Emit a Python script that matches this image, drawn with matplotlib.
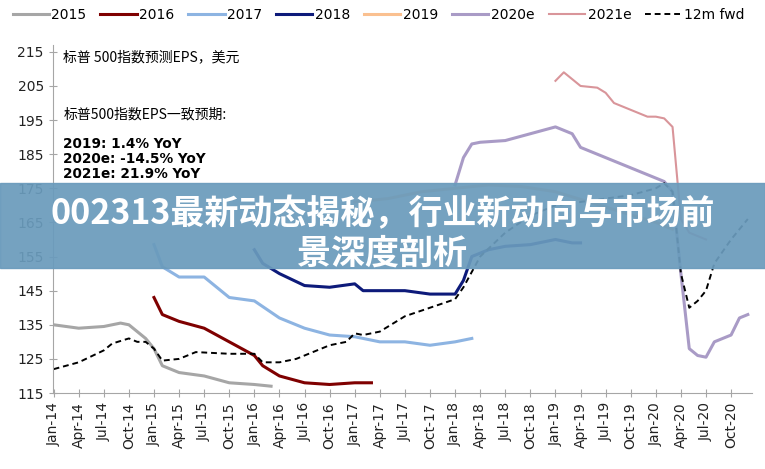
import matplotlib
matplotlib.use("Agg")
import matplotlib.pyplot as plt
from matplotlib.patches import Rectangle
from matplotlib import font_manager as fm

cjk_names = sorted({f.name for f in fm.fontManager.ttflist if "CJK" in f.name})
cjk = next((n for n in cjk_names if "SC" in n), cjk_names[0] if cjk_names else "DejaVu Sans")

# month index: 0 = Jan-14
s2015_m = [0, 3, 6, 8, 9, 11, 12, 13, 15, 18, 21, 24, 26]
s2015_v = [135, 134, 134.5, 135.5, 135, 131, 128, 123, 121, 120, 118, 117.5, 117]
s2016_m = [12, 13, 15, 18, 21, 24, 25, 27, 30, 33, 36, 38]
s2016_v = [143, 138, 136, 134, 130, 126, 123, 120, 118, 117.5, 118, 118]
s2017_m = [12, 13, 15, 18, 21, 24, 27, 30, 33, 36, 39, 42, 45, 48, 50]
s2017_v = [158.5, 152, 149, 149, 143, 142, 137, 134, 132, 131.5, 130, 130, 129, 130, 131]
s2018_m = [24, 25, 27, 30, 33, 36, 37, 39, 42, 45, 48, 49, 50, 52, 54, 57, 60, 62, 63]
s2018_v = [157, 153, 150, 146.5, 146, 147, 145, 145, 145, 144, 144, 148, 155, 157, 158, 158.5, 160, 159, 159]
s2019_m = [36, 40, 44, 48, 52, 56, 60, 64, 68, 72, 74]
s2019_v = [171, 172, 174, 175, 176, 175.5, 174, 171, 168, 165, 163]
s2020_m = [48, 49, 50, 51, 54, 57, 60, 62, 63, 66, 69, 72, 73, 74, 75, 76, 77, 78, 79, 80, 81, 82, 83]
s2020_v = [176, 184, 188, 188.5, 189, 191, 193, 191, 187, 184, 181, 178, 177, 174, 150, 128, 126, 125.5, 130, 131, 132, 137, 138]
s2021_m = [60, 61, 63, 65, 66, 67, 69, 71, 72, 73, 74, 75, 76, 78]
s2021_v = [206.5, 209, 205, 204.5, 203, 200, 198, 196, 196, 195.5, 193, 166, 162, 160]
fwd_m = [0, 3, 6, 7, 9, 10, 11, 12, 13, 15, 17, 21, 24, 25, 27, 29, 30, 33, 35, 36, 37, 39, 41, 42, 45, 48, 49, 51, 54, 57, 60, 63, 66, 69, 72, 73, 74, 75, 76, 77, 78, 79, 81, 83]
fwd_v = [122, 124, 127.5, 129.5, 131, 130, 130, 128, 124.5, 125, 127, 126.5, 126.5, 124, 124, 125, 126, 129, 130, 132.5, 132, 133, 136, 137.5, 140, 142.5, 146, 155, 162, 167, 170, 171, 172, 173, 175, 176.5, 174, 150, 140, 142, 145, 153, 160, 166]

tick_months = list(range(0, 84, 3))
mon = ["Jan", "Apr", "Jul", "Oct"]
tick_labels = [f"{mon[(m % 12)//3]}-{14 + m//12}" for m in tick_months]

fig = plt.figure(figsize=(7.65, 4.69), dpi=100)
ax = fig.add_axes([0.069, 0.162, 0.914, 0.742])

series = [
    ("2015", s2015_m, s2015_v, "#a6a6a6", "-", 2.2),
    ("2016", s2016_m, s2016_v, "#7f0000", "-", 2.2),
    ("2017", s2017_m, s2017_v, "#8db4e2", "-", 2.2),
    ("2018", s2018_m, s2018_v, "#0d1a7a", "-", 2.2),
    ("2019", s2019_m, s2019_v, "#fac090", "-", 2.2),
    ("2020e", s2020_m, s2020_v, "#a99bc6", "-", 2.2),
    ("2021e", s2021_m, s2021_v, "#d9959a", "-", 1.5),
    ("12m fwd", fwd_m, fwd_v, "#000000", (0, (3, 2)), 1.4),
]
for name, m, v, c, ls, lw in series:
    ax.plot(m, v, color=c, linestyle=ls, lw=lw, label=name)

ax.set_xlim(-0.1, 83.5)
ax.set_ylim(115, 217)
ax.set_yticks(range(115, 216, 10))
ax.set_xticks(tick_months)
ax.set_xticklabels(tick_labels, rotation=90)
for s in ["top", "right"]:
    ax.spines[s].set_visible(False)
for s in ["left", "bottom"]:
    ax.spines[s].set_color("#a6a6a6")
ax.tick_params(direction="inout", length=6, color="#a6a6a6", labelsize=10, labelcolor="#222222")

fig.legend(loc="upper left", bbox_to_anchor=(0.0, 1.01), ncol=8, frameon=False,
           fontsize=10, handlelength=2.6, handletextpad=0.2, columnspacing=1.0)

ax.text(0.015, 0.985, "标普 500指数预测EPS，美元", transform=ax.transAxes, fontsize=10, family=cjk, va="top")
ax.text(0.015, 0.82, "标普500指数EPS一致预期:", transform=ax.transAxes, fontsize=10, family=cjk, va="top")
ax.text(0.015, 0.735, "2019: 1.4% YoY\n2020e: -14.5% YoY\n2021e: 21.9% YoY",
        transform=ax.transAxes, fontsize=9.8, fontweight="bold", va="top", linespacing=1.1)

fig.patches.append(Rectangle((0, 1 - 268/469), 1, 85/469, transform=fig.transFigure,
                             color="#6a9bbc", alpha=0.93, zorder=10))
fig.text(0.5, 1 - 214/469, "002313最新动态揭秘，行业新动向与市场前", ha="center", va="center",
         fontsize=24.5, fontweight="heavy", color="white", family=cjk, zorder=11)
fig.text(0.5, 1 - 253/469, "景深度剖析", ha="center", va="center",
         fontsize=24.5, fontweight="heavy", color="white", family=cjk, zorder=11)

fig.savefig("out.png", dpi=100)
